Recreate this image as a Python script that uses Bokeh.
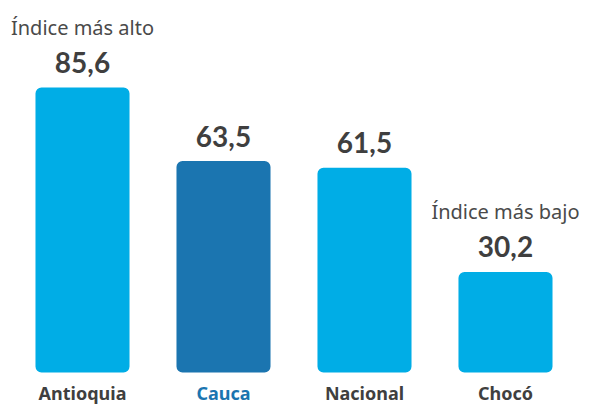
from bokeh.plotting import figure
from bokeh.models import ColumnDataSource, Range1d
from bokeh.core.properties import value
from bokeh.embed import file_html
from bokeh.resources import INLINE

categories = ["Antioquia", "Cauca", "Nacional", "Chocó"]
values = [85.6, 63.5, 61.5, 30.2]
value_labels = ["85,6", "63,5", "61,5", "30,2"]
bar_colors = ["#00ade6", "#1b75b0", "#00ade6", "#00ade6"]
cat_colors = ["#3f3f3f", "#1b75b0", "#3f3f3f", "#3f3f3f"]
notes = ["Índice más alto", "", "", "Índice más bajo"]

xs = list(range(len(categories)))
src = ColumnDataSource(dict(x=xs, v=values, vl=value_labels, bc=bar_colors,
                            cat=categories, cc=cat_colors, note=notes, zero=[0]*len(xs)))

p = figure(width=591, height=406, output_backend="svg", toolbar_location=None,
           x_range=Range1d(-0.5816, 3.610), y_range=Range1d(-10.21, 111.74),
           min_border=0, min_border_left=0, min_border_right=0,
           min_border_top=0, min_border_bottom=0)
p.axis.visible = False
p.grid.visible = False
p.outline_line_color = None
p.background_fill_color = "white"
p.border_fill_color = "white"

p.vbar(x="x", top="v", bottom=0, width=0.667, fill_color="bc", line_color=None,
       border_radius=6, source=src)

p.text(x="x", y="v", text="vl", text_align="center", text_baseline="middle",
       y_offset=-25, text_font=value("Lato"), text_font_style="bold",
       text_font_size="28px", text_color="#3f3f3f", source=src)

p.text(x="x", y="zero", text="cat", text_align="center", text_baseline="middle",
       y_offset=20, text_font=value("Noto Sans"), text_font_style="bold",
       text_font_size="18px", text_color="cc", source=src)

p.text(x="x", y="v", text="note", text_align="center", text_baseline="middle",
       y_offset=-60, text_font=value("Noto Sans"), text_font_style="normal",
       text_font_size="20px", text_color="#4a4a4a", source=src)

open("out.html", "w").write(file_html(p, INLINE))
